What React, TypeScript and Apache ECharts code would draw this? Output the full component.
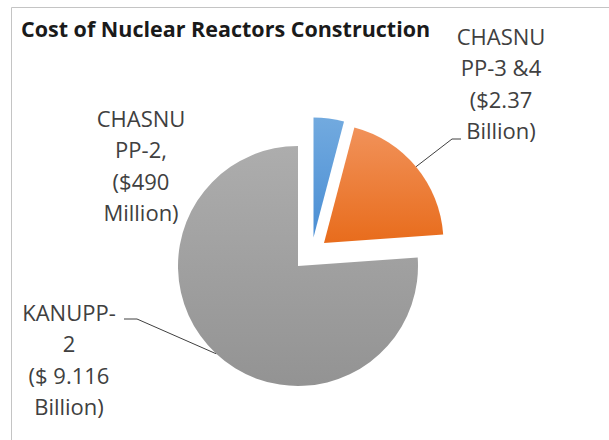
import React, { useEffect, useRef } from "react";
import * as echarts from "echarts";

const TITLE = "Cost of Nuclear Reactors Construction";
const categories = ["CHASNU PP-2", "CHASNU PP-3 &4", "KANUPP-2"];
const values = [0.49, 2.37, 9.116]; // billions of USD
const labelTexts = [
  "CHASNU\nPP-2,\n($490\nMillion)",
  "CHASNU\nPP-3 &4\n($2.37\nBillion)",
  "KANUPP-\n2\n($ 9.116\nBillion)",
];

const colorTop = ["#72aadf", "#f1925a", "#adadad"];
const colorBottom = ["#4a8ed4", "#e86c1c", "#939393"];

// layout (per slice: exploded centre, label centre, leader elbow/end)
const sliceCenters: [number, number][] = [
  [313.5, 237.5],
  [324, 243],
  [298, 266],
];
const sliceRadius = [120, 119.5, 120];
const labelPos: [number, number][] = [
  [141, 165],
  [501, 83],
  [69, 359],
];
const leaderPts: (number[][] | null)[] = [
  null,
  [
    [452, 139],
    [461, 139],
  ],
  [
    [137, 319],
    [124, 319],
  ],
];

const FONT = "'Open Sans', 'Noto Sans', sans-serif";

export default function App() {
  const ref = useRef<HTMLDivElement>(null);
  useEffect(() => {
    if (!ref.current) return;
    const chart = echarts.init(ref.current, undefined, { renderer: "svg" });

    const series = values.map((_, k) => ({
      type: "pie",
      silent: true,
      center: sliceCenters[k],
      radius: sliceRadius[k],
      startAngle: 90,
      clockwise: true,
      avoidLabelOverlap: false,
      minShowLabelAngle: 0,
      emphasis: { disabled: true },
      itemStyle: { borderWidth: 0 },
      label: {
        show: true,
        position: "outside",
        fontFamily: FONT,
        fontSize: 22,
        lineHeight: 31.5,
        color: "#404040",
        align: "center",
        formatter: (p: any) => labelTexts[p.dataIndex],
      },
      labelLine: {
        show: k !== 0,
        length: 10,
        length2: 10,
        lineStyle: { color: "#404040", width: 1 },
      },
      labelLayout: (params: any) => {
        const i = params.dataIndex;
        const out: any = {
          x: labelPos[i][0],
          y: labelPos[i][1],
          align: "center",
          verticalAlign: "middle",
        };
        const lp = leaderPts[i];
        if (lp && params.labelLinePoints && params.labelLinePoints[0]) {
          out.labelLinePoints = [params.labelLinePoints[0], lp[0], lp[1]];
        }
        return out;
      },
      data: values.map((v, i) => ({
        name: categories[i],
        value: v,
        itemStyle: {
          color:
            i === k
              ? {
                  type: "linear",
                  x: 0,
                  y: 0,
                  x2: 0,
                  y2: 1,
                  colorStops: [
                    { offset: 0, color: colorTop[i] },
                    { offset: 1, color: colorBottom[i] },
                  ],
                }
              : "rgba(0,0,0,0)",
        },
        label: { show: i === k },
        labelLine: { show: i === k && k !== 0 },
      })),
    }));

    chart.setOption({
      animation: false,
      backgroundColor: "#ffffff",
      title: {
        text: TITLE,
        left: 16,
        top: 12,
        textStyle: {
          fontFamily: FONT,
          fontSize: 21.5,
          fontWeight: "bold",
          color: "#1a1a1a",
        },
      },
      graphic: [
        {
          type: "rect",
          silent: true,
          shape: { x: 11.5, y: 7.5, width: 640, height: 480 },
          style: { fill: "none", stroke: "#c4c4c4", lineWidth: 1 },
        },
      ],
      series,
    } as any);

    return () => chart.dispose();
  }, []);

  return (
    <div
      ref={ref}
      style={{ position: "absolute", left: 0, top: 0, width: 609, height: 440 }}
    />
  );
}
